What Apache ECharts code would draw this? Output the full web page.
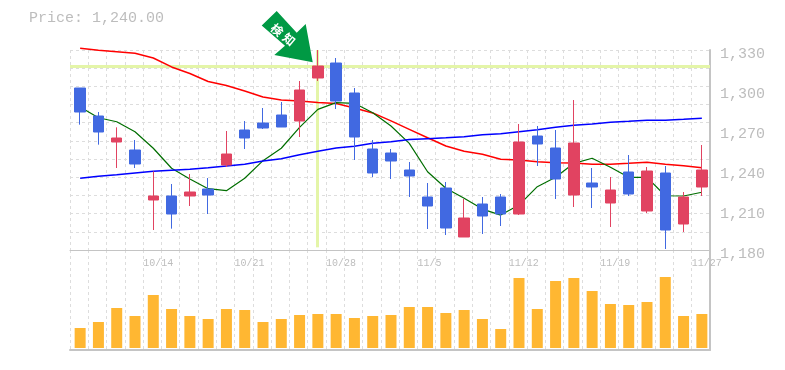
<!DOCTYPE html>
<html>
<head>
<meta charset="utf-8">
<style>html,body{margin:0;padding:0;background:#fff}#c{width:785px;height:370px}</style>
<script src="https://cdn.jsdelivr.net/npm/echarts@6/dist/echarts.min.js"></script>
</head>
<body>
<div id="c"></div>
<script>
const categories = Array.from({length:35},(_, i)=>'d'+i);
const opens  = [1301.5,1280.5,1261,1255,1217.5,1220.5,1220.5,1225.75,1243.75,1270,1275.25,1281.25,1276.75,1309,1320.25,1297.75,1255.75,1252.75,1240,1219.75,1226.5,1189.75,1214.5,1219.75,1207,1265.5,1256.5,1221.25,1230.25,1215.25,1238.5,1209.25,1237.75,1199.5,1227.25];
const closes = [1283.5,1268.5,1264,1244.5,1220.5,1207,1223.5,1221.25,1252,1264,1271.5,1272.25,1300,1318,1291.75,1264.75,1237.75,1246.75,1235.5,1213,1196.5,1204,1205.5,1207,1261,1259.5,1233.25,1260.25,1227.25,1225,1222,1239.25,1195,1219.75,1240];
const lows   = [1274,1259,1241.5,1241.5,1195,1196,1213,1207,1242.25,1255.75,1270.75,1272.25,1264.75,1306.75,1285.75,1247.5,1234.75,1233.25,1219.75,1195.75,1191.25,1189.75,1192,1198,1206.25,1243,1218.25,1212.25,1211.5,1197.25,1220.5,1207.75,1180.75,1193.5,1220.5];
const highs  = [1301.5,1283.5,1272,1262.5,1239,1229.5,1237,1234,1269.25,1276.75,1286.5,1291,1306.75,1330,1324,1301.5,1262.5,1255.75,1246,1230.25,1231,1218.25,1219.75,1222,1274.5,1273,1270,1292.5,1241.5,1234.75,1251.25,1242.25,1243,1223.5,1258.75];
const maLong = [1331.3,1329.8,1328.7,1327.5,1324,1317.3,1312.4,1306.4,1303.4,1299.3,1294.8,1292.5,1291.8,1290.6,1289.9,1286.5,1282.8,1276.8,1270.5,1264.2,1258,1254,1251.8,1248,1247.5,1246.2,1245.5,1245.3,1244.3,1244.3,1245,1245.8,1244.3,1243.2,1241.7];
const maTrend = [1233.8,1235.3,1236.5,1237.8,1239,1239.8,1240.5,1241.7,1243,1244.3,1246.8,1248.5,1251.5,1254,1256.5,1257.8,1260,1261.2,1262.8,1263.5,1264.2,1265,1266.5,1267.2,1268.7,1270.2,1272,1273.5,1274.5,1275.8,1276.5,1277.3,1277.3,1278,1278.8];
const maShort = [1287.2,1279.2,1276.2,1268.7,1256.3,1241.3,1233.3,1226,1224.5,1233.8,1247,1256.3,1272,1285.5,1290.5,1290,1283,1273,1260,1238.7,1226.3,1218.8,1210.7,1206.2,1213.7,1227.5,1234.5,1245,1248.8,1242,1234.5,1234.5,1220.7,1220.5,1223.3];
const volumes = [20,26,40,32,53,39,32,29,39,38,26,29,33,34,34,30,32,33,41,41,35,38,29,19,70,39,67,70,57,44,43,46,71,32,34];
const priceTicks = [1180,1210,1240,1270,1300,1330];
const gridValues = [1180,1193.64,1207.27,1220.91,1234.55,1248.18,1261.82,1275.45,1289.09,1302.73,1316.36,1330];
const dateSlots = [4,9,14,19,24,29,34];
const dateLabels = ['10/14','10/21','10/28','11/5','11/12','11/19','11/27'];
const signalSlot = 13;
const signalPrice = 1318;
const titleText = 'Price: 1,240.00';
const signalChars = ['検','知'];

const MONO = '"Liberation Mono", monospace';
const TXT = '#bdbdbd', GRID = '#dddddd', SOLID = '#c4c4c4', BAND = '#e4f5a8';
const splitDash = {show:true, lineStyle:{color:GRID, type:[3,3], width:1}};
const hiddenCat = g => ({type:'category', gridIndex:g, data:categories, show:false, boundaryGap:true});
const chart = echarts.init(document.getElementById('c'), null, {renderer:'canvas'});
chart.setOption({
  animation:false,
  backgroundColor:'#fff',
  title:{text:titleText, left:29, top:11, padding:0, textStyle:{fontFamily:MONO, fontSize:15, fontWeight:'normal', color:TXT}},
  grid:[
    {left:70, top:50, width:640, height:200},
    {left:70, top:250, width:640, height:100},
    {left:71, top:50, width:640, height:200},
    {left:71, top:250, width:640, height:100}
  ],
  xAxis:[
    {type:'category', gridIndex:0, data:categories, boundaryGap:true,
     axisLine:{show:true, onZero:false, lineStyle:{color:SOLID, width:1}}, axisTick:{show:false}, axisLabel:{show:false},
     splitLine:Object.assign({interval:0}, splitDash)},
    {type:'category', gridIndex:1, data:categories, boundaryGap:true, position:'bottom',
     axisLine:{show:true, onZero:false, lineStyle:{color:SOLID, width:2}}, axisTick:{show:false}, axisLabel:{show:false},
     splitLine:Object.assign({interval:0}, splitDash)},
    {type:'value', gridIndex:0, position:'bottom', min:0, max:35, axisLine:{show:false, onZero:false}, axisTick:{show:false}, splitLine:{show:false},
     axisLabel:{show:true, customValues:dateSlots, align:'left', margin:8, color:TXT, fontFamily:MONO, fontSize:10, hideOverlap:false,
       formatter:v=>dateLabels[dateSlots.indexOf(v)]||''}},
    hiddenCat(2),
    hiddenCat(3)
  ],
  yAxis:[
    {type:'value', gridIndex:0, position:'right', min:1180, max:1330,
     axisLine:{show:true, onZero:false, lineStyle:{color:SOLID, width:2}},
     axisTick:{show:false, customValues:gridValues},
     axisLabel:{customValues:priceTicks, margin:10, color:TXT, fontFamily:MONO, fontSize:15, verticalAlign:'top', lineHeight:9,
       formatter:v=>v.toLocaleString('en-US')},
     splitLine:splitDash},
    {type:'value', gridIndex:1, position:'right', min:-2, max:98,
     axisLine:{show:true, onZero:false, lineStyle:{color:SOLID, width:2}}, axisTick:{show:false}, axisLabel:{show:false}, splitLine:{show:false}},
    {type:'value', gridIndex:2, min:1180, max:1330, show:false},
    {type:'value', gridIndex:3, min:-2, max:98, show:false}
  ],
  series:[
    {type:'line', name:'band', xAxisIndex:0, yAxisIndex:0, data:[], z:1,
     markLine:{silent:true, symbol:'none', z:1, animation:false, label:{show:false}, lineStyle:{color:BAND, width:3, type:'solid'},
       data:[{yAxis:signalPrice},[{xAxis:signalSlot, yAxis:1182},{xAxis:signalSlot, yAxis:1330}]]}},
    {type:'line', name:'long', xAxisIndex:3, yAxisIndex:2, data:maLong, showSymbol:false, clip:false, lineStyle:{color:'#ff0000', width:1.5}, z:2},
    {type:'line', name:'short', xAxisIndex:3, yAxisIndex:2, data:maShort, showSymbol:false, lineStyle:{color:'#006e00', width:1.2}, z:2},
    {type:'line', name:'trend', xAxisIndex:3, yAxisIndex:2, data:maTrend, showSymbol:false, lineStyle:{color:'#0000ff', width:1.5}, z:2},
    {type:'candlestick', xAxisIndex:3, yAxisIndex:2, barWidth:11, z:3,
     data:opens.map((o,i)=>[o,closes[i],lows[i],highs[i]]),
     itemStyle:{color:'#e14361', color0:'#4169e1', borderColor:'#e14361', borderColor0:'#4169e1', borderWidth:1}},
    {type:'bar', xAxisIndex:4, yAxisIndex:3, data:volumes, barWidth:11, itemStyle:{color:'#ffb732'}}
  ],
  graphic:[
    {type:'polygon', z:100, shape:{points:[[276.7,11],[261.7,25.5],[285,45.7],[274.3,55],[312.7,62.3],[305.7,24],[296.7,32.7]]}, style:{fill:'#009944'}},
    {type:'text', z:101, x:277, y:30, rotation:-0.7, style:{text:signalChars[0], fill:'#fff', font:'bold 12px "Noto Sans CJK JP"', align:'center', verticalAlign:'middle'}},
    {type:'text', z:101, x:289, y:39.5, rotation:-0.7, style:{text:signalChars[1], fill:'#fff', font:'bold 12px "Noto Sans CJK JP"', align:'center', verticalAlign:'middle'}}
  ]
});
</script>
</body>
</html>
